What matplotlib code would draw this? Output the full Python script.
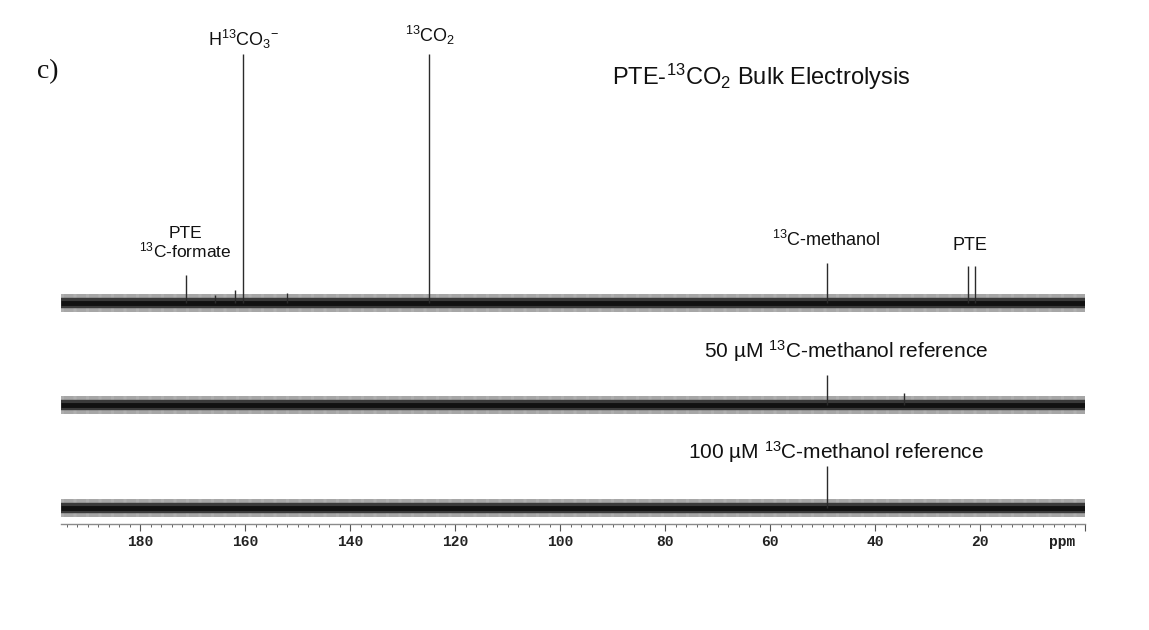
import matplotlib
matplotlib.use("Agg")
import matplotlib.pyplot as plt
from matplotlib.ticker import FixedLocator, MultipleLocator

# peak positions (ppm) and heights above the baseline
bulk_ppm = [171.2, 165.7, 162.0, 160.4, 152.0, 124.9, 49.2, 22.3, 21.0]
bulk_height = [28, 8, 13, 249, 10, 249, 40, 37, 37]
ref50_ppm = [49.2, 34.5]
ref50_height = [30, 12]
ref100_ppm = [49.2]
ref100_height = [42]

tick_ppm = [180, 160, 140, 120, 100, 80, 60, 40, 20, 0]
tick_labels = ["180", "160", "140", "120", "100", "80", "60", "40", "20", ""]

plt.rcParams["font.family"] = "Liberation Sans"
plt.rcParams["mathtext.fontset"] = "custom"
plt.rcParams["mathtext.rm"] = "Liberation Sans"
plt.rcParams["mathtext.it"] = "Liberation Sans:italic"
plt.rcParams["mathtext.bf"] = "Liberation Sans:bold"
plt.rcParams["hatch.linewidth"] = 0.5

fig = plt.figure(figsize=(11.49, 6.30), dpi=100)
ax = fig.add_axes([61.25 / 1149, 0, 1023.75 / 1149, 1])
ax.set_xlim(195, 0)
ax.set_ylim(0, 630)

# stacked spectra: (ppm, heights, baseline level)
spectra = [
    (bulk_ppm, bulk_height, 327),
    (ref50_ppm, ref50_height, 225),
    (ref100_ppm, ref100_height, 122),
]
for ppm, height, base in spectra:
    # noise floor drawn as a textured band
    ax.fill_between([195, 0], base - 9, base + 9, facecolor="none",
                    edgecolor="#8c8c8c", hatch="|" * 18, lw=0, zorder=1)
    ax.plot([195, 0], [base, base], color="#3a3a3a", lw=7.5,
            solid_capstyle="butt", zorder=2)
    ax.plot([195, 0], [base, base], color="#111111", lw=3.5,
            solid_capstyle="butt", zorder=2)
    tops = [base + h for h in height]
    ax.vlines(ppm, base, tops, color="#2b2b2b", lw=1.0, zorder=3)

# axis
for side in ["left", "right", "top"]:
    ax.spines[side].set_visible(False)
ax.spines["bottom"].set_position(("data", 106))
ax.spines["bottom"].set_color("#8a8a8a")
ax.spines["bottom"].set_linewidth(1.0)
ax.set_yticks([])
ax.xaxis.set_major_locator(FixedLocator(tick_ppm))
ax.xaxis.set_minor_locator(MultipleLocator(2))
ax.set_xticklabels(tick_labels)
ax.tick_params(which="major", direction="out", length=5, width=0.8,
               color="#555555", pad=3, labelsize=10.5, labelcolor="#222222")
ax.tick_params(which="minor", direction="out", length=2.5, width=0.7,
               color="#666666")
for tl in ax.get_xticklabels():
    tl.set_fontfamily("Liberation Mono")
    tl.set_fontweight("bold")
ax.text(4.3, 95, "ppm", ha="center", va="top", fontsize=10.5,
        family="Liberation Mono", weight="bold", color="#222222")

# peak labels
txt = dict(ha="center", va="center", color="#111111")
ax.text(160.2, 591, r"$\mathregular{H^{13}CO_3{}^{-}}$", fontsize=13, **txt)
ax.text(124.8, 595, r"$\mathregular{^{13}CO_2}$", fontsize=13, **txt)
ax.text(61.7, 553, r"PTE-$\mathregular{^{13}CO_2}$ Bulk Electrolysis",
        fontsize=17, **txt)
ax.text(171.4, 397, "PTE", fontsize=12.5, **txt)
ax.text(171.4, 380, r"$\mathregular{^{13}}$C-formate", fontsize=12.5, **txt)
ax.text(49.3, 390, r"$\mathregular{^{13}}$C-methanol", fontsize=13, **txt)
ax.text(21.9, 385, "PTE", fontsize=13, **txt)
ax.text(45.5, 279, r"50 µM $\mathregular{^{13}}$C-methanol reference",
        fontsize=15, **txt)
ax.text(47.4, 178, r"100 µM $\mathregular{^{13}}$C-methanol reference",
        fontsize=15, **txt)

fig.text(37 / 1149, 1 - 72 / 630, "c)", ha="left", va="center",
         fontsize=20, family="Liberation Serif", color="#111111")

fig.savefig("out.png", dpi=100)
plt.close(fig)
